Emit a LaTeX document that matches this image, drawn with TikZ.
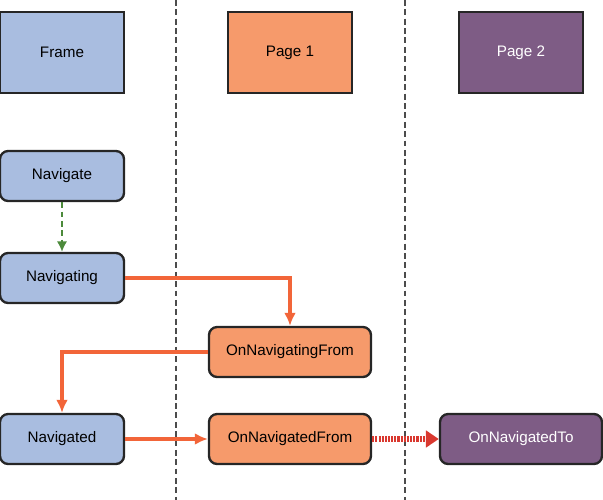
\documentclass[tikz,border=0pt]{standalone}
\usepackage{fontspec}
\setsansfont{Liberation Sans}
\usetikzlibrary{arrows.meta}

\definecolor{frameblue}{HTML}{A9BDE0}
\definecolor{pageorange}{HTML}{F69A6B}
\definecolor{pagepurple}{HTML}{7E5C85}
\definecolor{callorange}{HTML}{F26539}
\definecolor{flowgreen}{HTML}{4C8A3B}
\definecolor{flowred}{HTML}{D9382F}

\tikzset{
  owner/.style={draw=black!85, line width=2pt, minimum width=3.72cm, minimum height=2.43cm},
  event/.style={draw=black!85, line width=2pt, rounded corners=7pt, minimum width=3.72cm, minimum height=1.5cm},
  wideevent/.style={event, minimum width=4.86cm},
  call/.style={->, callorange, line width=3.2pt, >={Latex[length=11pt,width=10pt]}},
}

\begin{document}
\begin{tikzpicture}[x=0.03cm, y=-0.03cm, font=\sffamily\fontsize{13}{15}\selectfont]
  \useasboundingbox (0,0) rectangle (603,500);

  % lane separators
  \foreach \x in {176, 405} {
    \draw[black!70, line width=0.9pt, dash pattern=on 5pt off 3pt] (\x,0) -- (\x,500);
  }

  % owners
  \node[owner, fill=frameblue] (frame) at (62,52.5) {Frame};
  \node[owner, fill=pageorange] (pageone) at (290,52.5) {Page 1};
  \node[owner, fill=pagepurple, text=white] (pagetwo) at (521,52.5) {Page 2};

  % events
  \node[event, fill=frameblue] (navigate) at (62,176) {Navigate};
  \node[event, fill=frameblue] (navigating) at (62,278) {Navigating};
  \node[wideevent, fill=pageorange] (ongfrom) at (290,352) {OnNavigatingFrom};
  \node[event, fill=frameblue] (navigated) at (62,439) {Navigated};
  \node[wideevent, fill=pageorange] (onfrom) at (290,439) {OnNavigatedFrom};
  \node[wideevent, fill=pagepurple, text=white] (onto) at (521,439) {OnNavigatedTo};

  % flow
  \draw[->, flowgreen, line width=2pt, dash pattern=on 5pt off 3pt, >={Latex[length=9pt,width=9pt]}] (navigate) -- (navigating);
  \draw[call] (navigating.east) -| (ongfrom.north);
  \draw[call] (ongfrom.west) -| (navigated.north);
  \draw[call] (navigated) -- (onfrom);
  \draw[->, flowred, line width=5.5pt, dash pattern=on 1.8pt off 0.9pt, >={Triangle[length=11pt,width=14pt]}] (onfrom) -- (onto);

\end{tikzpicture}
\end{document}
